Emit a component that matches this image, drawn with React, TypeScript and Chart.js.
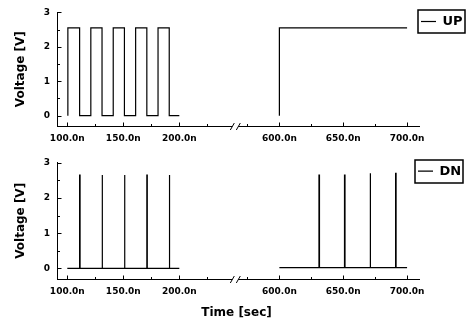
import React, { useEffect, useRef } from 'react';
import { Chart, registerables } from 'chart.js';

Chart.register(...registerables);

const FONT = 'DejaVu Sans';

// ---- data (times in ns, voltages in V) ----
const UP_LEFT_T = [100.5, 100.5, 111, 111, 121, 121, 131, 131, 141, 141, 151, 151, 161, 161, 171, 171, 181, 181, 191, 191, 200];
const UP_LEFT_V = [0, 2.55, 2.55, 0, 0, 2.55, 2.55, 0, 0, 2.55, 2.55, 0, 0, 2.55, 2.55, 0, 0, 2.55, 2.55, 0, 0];
const UP_RIGHT_T = [600, 600, 700];
const UP_RIGHT_V = [0, 2.55, 2.55];

const DN_LEFT_T = [100, 111, 111, 111.4, 111.4, 131, 131, 131.4, 131.4, 151, 151, 151.4, 151.4, 171, 171, 171.4, 171.4, 191, 191, 191.4, 191.4, 200];
const DN_LEFT_V = [0, 0, 2.65, 2.65, 0, 0, 2.65, 2.65, 0, 0, 2.65, 2.65, 0, 0, 2.65, 2.65, 0, 0, 2.65, 2.65, 0, 0];
const DN_RIGHT_T = [600, 631, 631, 631.4, 631.4, 651, 651, 651.4, 651.4, 671, 671, 671.4, 671.4, 691, 691, 691.4, 691.4, 700];
const DN_RIGHT_V = [0.02, 0.02, 2.65, 2.65, 0.02, 0.02, 2.65, 2.65, 0.02, 0.02, 2.7, 2.7, 0.02, 0.02, 2.7, 2.7, 0.02, 0.02];

// ---- ticks ----
const X_TICK_TIMES = [100, 150, 200, 600, 650, 700];
const X_TICK_LABELS = ['100.0n', '150.0n', '200.0n', '600.0n', '650.0n', '700.0n'];
const X_MINOR_TIMES = [125, 175, 225, 575, 625, 675];
const Y_TICKS = [0, 1, 2, 3];
const Y_MINOR = [0.5, 1.5, 2.5];

// ---- broken time axis ----
const BREAK_LEFT_T = 250;
const BREAK_RIGHT_T = 565.5;
const RIGHT_STRETCH = 1.14;
const X_MIN_U = 90.8;
const X_MAX_U = 411.3;

function toU(t: number): number {
  return t <= BREAK_LEFT_T ? t : BREAK_LEFT_T + (t - BREAK_RIGHT_T) * RIGHT_STRETCH;
}

function seriesPoints(lt: number[], lv: number[], rt: number[], rv: number[]) {
  const pts: { x: number; y: number | null }[] = lt.map((t, i) => ({ x: toU(t), y: lv[i] }));
  pts.push({ x: toU(BREAK_LEFT_T), y: null });
  rt.forEach((t, i) => pts.push({ x: toU(t), y: rv[i] }));
  return pts;
}

const axisDecor = {
  id: 'axisDecor',
  afterDraw(chart: any) {
    const { ctx, chartArea } = chart;
    const xs = chart.scales.x;
    const ys = chart.scales.y;
    const yA = Math.round(chartArea.bottom) + 0.5;
    const xA = Math.round(chartArea.left) + 0.5;
    ctx.save();
    ctx.strokeStyle = '#000';
    ctx.lineWidth = 1;
    const bp = xs.getPixelForValue(toU(BREAK_LEFT_T));
    ctx.beginPath();
    ctx.moveTo(chartArea.left, yA);
    ctx.lineTo(bp - 3, yA);
    ctx.moveTo(bp + 3, yA);
    ctx.lineTo(chartArea.right + 4, yA);
    ctx.moveTo(bp - 5, yA + 3.5);
    ctx.lineTo(bp - 1, yA - 3.5);
    ctx.moveTo(bp + 1, yA + 3.5);
    ctx.lineTo(bp + 5, yA - 3.5);
    X_TICK_TIMES.forEach((t) => {
      const p = Math.round(xs.getPixelForValue(toU(t))) + 0.5;
      ctx.moveTo(p, yA);
      ctx.lineTo(p, yA - 4);
    });
    X_MINOR_TIMES.forEach((t) => {
      const p = Math.round(xs.getPixelForValue(toU(t))) + 0.5;
      ctx.moveTo(p, yA);
      ctx.lineTo(p, yA - 2.5);
    });
    Y_TICKS.forEach((v) => {
      const p = Math.round(ys.getPixelForValue(v)) + 0.5;
      ctx.moveTo(xA, p);
      ctx.lineTo(xA + 4, p);
    });
    Y_MINOR.forEach((v) => {
      const p = Math.round(ys.getPixelForValue(v)) + 0.5;
      ctx.moveTo(xA, p);
      ctx.lineTo(xA + 2.5, p);
    });
    ctx.stroke();
    const lg = chart.legend;
    if (lg && lg.legendHitBoxes) {
      ctx.lineWidth = 1.5;
      lg.legendHitBoxes.forEach((hb: any) => {
        ctx.strokeRect(Math.round(hb.left - 3), Math.round(hb.top - 5), Math.round(hb.width + 5), Math.round(hb.height + 10));
      });
    }
    ctx.restore();
  },
};

function makeConfig(label: string, points: any[], o: { padTop: number; axisH: number; legendPad: number; xTitle: boolean }): any {
  return {
    type: 'line',
    data: {
      datasets: [
        {
          label,
          data: points,
          borderColor: '#000',
          backgroundColor: '#000',
          borderWidth: 1.2,
          pointRadius: 0,
          tension: 0,
          spanGaps: false,
          fill: false,
        },
      ],
    },
    options: {
      responsive: false,
      animation: false,
      devicePixelRatio: 1,
      layout: { padding: { top: o.padTop, left: 0, right: 0, bottom: 0 } },
      plugins: {
        tooltip: { enabled: false },
        legend: {
          display: true,
          position: 'right',
          align: 'start',
          maxWidth: 52,
          labels: {
            usePointStyle: true,
            pointStyle: 'line',
            pointStyleWidth: 15,
            padding: o.legendPad,
            color: '#000',
            font: { family: FONT, size: 13, weight: 'bold' },
          },
        },
      },
      scales: {
        x: {
          type: 'linear',
          min: X_MIN_U,
          max: X_MAX_U,
          grid: { display: false, drawTicks: false },
          border: { display: false },
          afterBuildTicks: (scale: any) => {
            scale.ticks = X_TICK_TIMES.map((t) => ({ value: toU(t) }));
          },
          afterFit: (scale: any) => {
            scale.height = o.axisH;
          },
          ticks: {
            autoSkip: false,
            maxRotation: 0,
            padding: 7,
            color: '#000',
            font: { family: FONT, size: 9, weight: 'bold' },
            callback: (_v: any, i: number) => X_TICK_LABELS[i],
          },
          title: {
            display: o.xTitle,
            text: 'Time [sec]',
            color: '#000',
            font: { family: FONT, size: 12, weight: 'bold' },
            padding: { top: 0, bottom: 2 },
          },
        },
        y: {
          type: 'linear',
          min: -0.3,
          max: 3,
          grid: { display: false, drawTicks: false },
          border: { display: true, color: '#000', width: 1 },
          afterBuildTicks: (scale: any) => {
            scale.ticks = Y_TICKS.map((v) => ({ value: v }));
          },
          afterFit: (scale: any) => {
            scale.width = 57;
          },
          ticks: {
            padding: 7,
            color: '#000',
            font: { family: FONT, size: 9, weight: 'bold' },
            callback: (v: any) => String(v),
          },
          title: {
            display: true,
            text: 'Voltage [V]',
            color: '#000',
            font: { family: FONT, size: 12, weight: 'bold' },
            padding: { top: 13.8, bottom: 0 },
          },
        },
      },
    },
    plugins: [axisDecor],
  };
}

export default function App() {
  const topRef = useRef<HTMLCanvasElement | null>(null);
  const botRef = useRef<HTMLCanvasElement | null>(null);

  useEffect(() => {
    const up = seriesPoints(UP_LEFT_T, UP_LEFT_V, UP_RIGHT_T, UP_RIGHT_V);
    const dn = seriesPoints(DN_LEFT_T, DN_LEFT_V, DN_RIGHT_T, DN_RIGHT_V);
    const c1 = new Chart(topRef.current as HTMLCanvasElement, makeConfig('UP', up, { padTop: 10, axisH: 24, legendPad: 5, xTitle: false }));
    const c2 = new Chart(botRef.current as HTMLCanvasElement, makeConfig('DN', dn, { padTop: 12.7, axisH: 43, legendPad: 2, xTitle: true }));
    return () => {
      c1.destroy();
      c2.destroy();
    };
  }, []);

  return (
    <div style={{ position: 'absolute', left: 0, top: 0, width: 468, height: 322, background: '#fff' }}>
      <canvas ref={topRef} width={468} height={150} style={{ position: 'absolute', left: 0, top: 0, width: 468, height: 150 }} />
      <canvas ref={botRef} width={468} height={172} style={{ position: 'absolute', left: 0, top: 150, width: 468, height: 172 }} />
    </div>
  );
}
